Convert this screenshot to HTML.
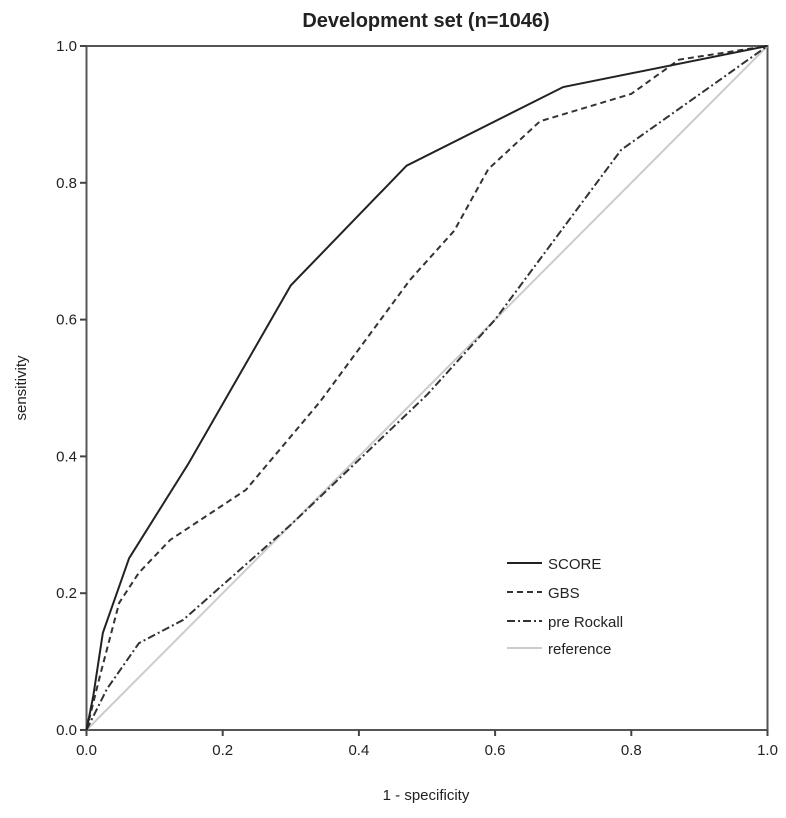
<!DOCTYPE html>
<html><head><meta charset="utf-8"><style>
body{margin:0;background:#fff}
svg text{font-family:"Liberation Sans",sans-serif;fill:#222}
</style></head><body>
<svg width="786" height="813" id="c">
<text x="426" y="27" text-anchor="middle" font-size="20" font-weight="bold">Development set (n=1046)</text>
<rect x="86.5" y="46" width="681" height="684" fill="none" stroke="#555" stroke-width="2"/>
<g id="ticks"></g>
<g id="series"></g>
<text x="426" y="800" text-anchor="middle" font-size="15">1 - specificity</text>
<text transform="translate(26,388) rotate(-90)" text-anchor="middle" font-size="15">sensitivity</text>
<g>
<line x1="507" y1="563" x2="542" y2="563" stroke="#222" stroke-width="2"/>
<text x="548" y="569" font-size="15">SCORE</text>
<line x1="507" y1="592" x2="542" y2="592" stroke="#333" stroke-width="2" stroke-dasharray="6,4"/>
<text x="548" y="598" font-size="15">GBS</text>
<line x1="507" y1="621" x2="542" y2="621" stroke="#333" stroke-width="2" stroke-dasharray="8,3,2,3"/>
<text x="548" y="627" font-size="15">pre Rockall</text>
<line x1="507" y1="648" x2="542" y2="648" stroke="#ccc" stroke-width="2"/>
<text x="548" y="654" font-size="15">reference</text>
</g>
</svg>
<script>
const tickValues=[0,0.2,0.4,0.6,0.8,1.0];
const tickLabels=["0.0","0.2","0.4","0.6","0.8","1.0"];
const scoreX=[0,0.01,0.024,0.0625,0.15,0.30,0.47,0.70,1];
const scoreY=[0,0.05,0.142,0.251,0.39,0.65,0.825,0.94,1];
const gbsX=[0,0.02,0.048,0.077,0.123,0.234,0.343,0.475,0.54,0.59,0.666,0.8,0.87,1];
const gbsY=[0,0.08,0.186,0.23,0.278,0.351,0.48,0.658,0.73,0.82,0.89,0.93,0.98,1];
const rockX=[0,0.03,0.077,0.142,0.3,0.5,0.6,0.785,1];
const rockY=[0,0.06,0.127,0.161,0.3,0.49,0.6,0.848,1];
const refX=[0,1];
const refY=[0,1];
const NS="http://www.w3.org/2000/svg";
const sx=v=>86.5+v*681, sy=v=>730-v*684;
const tg=document.getElementById('ticks'), sg=document.getElementById('series');
tickValues.forEach((v,i)=>{
 let l=document.createElementNS(NS,'line');
 l.setAttribute('x1',sx(v));l.setAttribute('x2',sx(v));l.setAttribute('y1',730);l.setAttribute('y2',736);
 l.setAttribute('stroke','#444');l.setAttribute('stroke-width','2');
 
 
 tg.appendChild(l);
 let t=document.createElementNS(NS,'text');
 t.setAttribute('x',sx(v));t.setAttribute('y',755);t.setAttribute('text-anchor','middle');t.setAttribute('font-size','15');
 t.textContent=tickLabels[i];
 
 
 tg.appendChild(t);
 let l2=document.createElementNS(NS,'line');
 l2.setAttribute('x1',80);l2.setAttribute('x2',86.5);l2.setAttribute('y1',sy(v));l2.setAttribute('y2',sy(v));
 l2.setAttribute('stroke','#444');l2.setAttribute('stroke-width','2');
 
 
 tg.appendChild(l2);
 let t2=document.createElementNS(NS,'text');
 t2.setAttribute('x',77);t2.setAttribute('y',sy(v)+5);t2.setAttribute('text-anchor','end');t2.setAttribute('font-size','15');
 t2.textContent=tickLabels[i];
 
 
 tg.appendChild(t2);
});
function line(xs,ys,stroke,dash,name){
 let p=document.createElementNS(NS,'polyline');
 p.setAttribute('points',xs.map((x,i)=>sx(x)+','+sy(ys[i])).join(' '));
 p.setAttribute('fill','none');p.setAttribute('stroke',stroke);p.setAttribute('stroke-width','2');
 if(dash)p.setAttribute('stroke-dasharray',dash);
 
 
 sg.appendChild(p);
}
line(refX,refY,'#ccc',null,'reference-line');
line(rockX,rockY,'#333','8,3,2,3','pre-rockall-line');
line(gbsX,gbsY,'#333','6,4','gbs-line');
line(scoreX,scoreY,'#222',null,'score-line');
</script>
</body></html>
